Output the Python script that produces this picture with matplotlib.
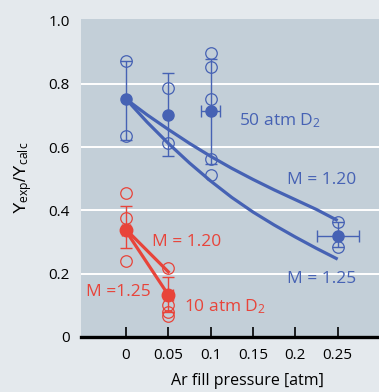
import matplotlib
matplotlib.use("Agg")
import matplotlib.pyplot as plt

plt.rcParams['font.family'] = ['Open Sans', 'DejaVu Sans']
plt.rcParams['mathtext.fontset'] = 'custom'
plt.rcParams['mathtext.rm'] = 'Open Sans'
plt.rcParams['mathtext.it'] = 'Open Sans:italic'

BLUE = '#4662b4'
RED = '#e8443a'
FIG_BG = '#e4e9ed'
AX_BG = '#c3cfd8'

# ---- data: 50 atm D2 (blue) ----
blue_x = [0.0, 0.05, 0.1, 0.25]
blue_mean = [0.752, 0.702, 0.714, 0.319]
blue_err_lo = [0.622, 0.573, 0.548, 0.285]
blue_err_hi = [0.873, 0.833, 0.880, 0.364]
blue_xerr = [0.0, 0.0, 0.011, 0.025]
blue_open = [[0.873, 0.636], [0.786, 0.612], [0.896, 0.854, 0.751, 0.562, 0.512], [0.364, 0.285]]

# model curves 50 atm
m120_x = [0.0, 0.025, 0.05, 0.075, 0.1, 0.125, 0.15, 0.175, 0.2, 0.225, 0.25]
m120_y = [0.752, 0.702, 0.656, 0.612, 0.571, 0.533, 0.498, 0.465, 0.434, 0.403, 0.368]
m125_x = [0.0, 0.025, 0.05, 0.075, 0.1, 0.125, 0.15, 0.175, 0.2, 0.225, 0.25]
m125_y = [0.752, 0.679, 0.612, 0.550, 0.493, 0.441, 0.395, 0.354, 0.316, 0.280, 0.246]

# ---- data: 10 atm D2 (red) ----
red_x = [0.0, 0.05]
red_mean = [0.338, 0.133]
red_err_lo = [0.282, 0.080]
red_err_hi = [0.415, 0.190]
red_xerr = [0.005, 0.005]
red_open = [[0.454, 0.375, 0.240], [0.219, 0.101, 0.080, 0.066]]

r120_x = [0.0, 0.05]
r120_y = [0.340, 0.206]
r125_x = [0.0, 0.05]
r125_y = [0.335, 0.133]

xticks = [0, 0.05, 0.1, 0.15, 0.2, 0.25]
xticklabels = ['0', '0.05', '0.1', '0.15', '0.2', '0.25']
yticks = [0, 0.2, 0.4, 0.6, 0.8, 1.0]
yticklabels = ['0', '0.2', '0.4', '0.6', '0.8', '1.0']

fig = plt.figure(figsize=(3.79, 3.92), dpi=100)
fig.patch.set_facecolor(FIG_BG)
ax = fig.add_axes([81/379, 55/392, 1 - 81/379, (337-19)/392])
ax.set_facecolor(AX_BG)
ax.set_xlim(-0.0531, 0.2988)
ax.set_ylim(0, 1.005)

for g in [0.2, 0.4, 0.6, 0.8]:
    ax.axhline(g, color='white', lw=1.4, zorder=1)

for s in ['left', 'right', 'top']:
    ax.spines[s].set_visible(False)
ax.spines['bottom'].set_linewidth(2.4)
ax.spines['bottom'].set_color('black')

ax.set_xticks(xticks)
ax.set_xticklabels(xticklabels)
ax.set_yticks(yticks)
ax.set_yticklabels(yticklabels)
ax.tick_params(axis='x', direction='in', length=7, width=1.2, color='black', pad=8, labelsize=11)
ax.tick_params(axis='y', length=0, pad=8, labelsize=11)

ms_open = 8.3
ew = 0.9

def draw_series(xs, mean, lo, hi, xerr, opens, color, ms_fill):
    for i, x in enumerate(xs):
        yerr = [[mean[i] - lo[i]], [hi[i] - mean[i]]]
        xe = xerr[i] if xerr[i] > 0 else None
        ax.errorbar([x], [mean[i]], yerr=yerr, xerr=xe, fmt='none', ecolor=color,
                    elinewidth=1.0, capsize=4, capthick=1.0, zorder=3)
        ax.plot([x] * len(opens[i]), opens[i], 'o', ms=ms_open, mfc='none', mec=color, mew=ew, zorder=4)
        ax.plot([x], [mean[i]], 'o', ms=ms_fill, color=color, zorder=5)

draw_series(blue_x, blue_mean, blue_err_lo, blue_err_hi, blue_xerr, blue_open, BLUE, 8)
ax.plot(m120_x, m120_y, color=BLUE, lw=2.3, zorder=4, solid_capstyle='butt', solid_joinstyle='round')
ax.plot(m125_x, m125_y, color=BLUE, lw=2.3, zorder=4, solid_capstyle='butt', solid_joinstyle='round')

draw_series(red_x, red_mean, red_err_lo, red_err_hi, red_xerr, red_open, RED, 9)
ax.plot(r120_x, r120_y, color=RED, lw=2.3, zorder=4)
ax.plot(r125_x, r125_y, color=RED, lw=2.3, zorder=4)

fs = 12.5
ax.text(0.1335, 0.67, r'50 atm D$_{2}$', color=BLUE, fontsize=fs, va='baseline', ha='left')
ax.text(0.19, 0.483, 'M = 1.20', color=BLUE, fontsize=fs, va='baseline', ha='left')
ax.text(0.19, 0.172, 'M = 1.25', color=BLUE, fontsize=fs, va='baseline', ha='left')
ax.text(0.0303, 0.288, 'M = 1.20', color=RED, fontsize=fs, va='baseline', ha='left')
ax.text(-0.0476, 0.13, 'M =1.25', color=RED, fontsize=fs, va='baseline', ha='left')
ax.text(0.0685, 0.08, r'10 atm D$_{2}$', color=RED, fontsize=fs, va='baseline', ha='left')

fig.text(247/379, 1 - 385/392, 'Ar fill pressure [atm]', fontsize=11.5, ha='center', va='baseline')
fig.text(23/379, 1 - 178/392, r'Y$_{\mathrm{exp}}$/Y$_{\mathrm{calc}}$', fontsize=12.5, rotation=90,
         ha='center', va='center', family=['Liberation Sans', 'DejaVu Sans'])

fig.savefig('out.png', dpi=100, facecolor=fig.get_facecolor())
